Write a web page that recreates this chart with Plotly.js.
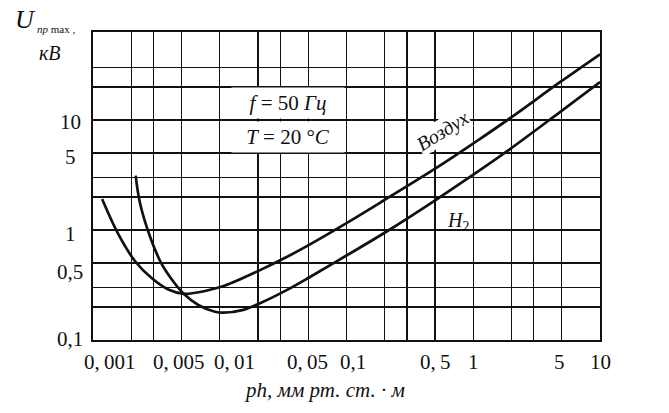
<!DOCTYPE html>
<html>
<head>
<meta charset="utf-8">
<script src="https://cdn.plot.ly/plotly-3.0.1.min.js"></script>
<style>
  html, body { margin: 0; padding: 0; background: #fff; }
  #plot { width: 669px; height: 413px; }
</style>
</head>
<body>
<div id="plot"></div>
<script>
/* Paschen curves, 50 Hz, 20 °C */

var airPh = [0.00118, 0.00158, 0.00214, 0.0029, 0.00393, 0.00522, 0.00698, 0.00917, 0.011,
             0.0208, 0.0337, 0.0515, 0.1, 0.195, 0.515, 1.0, 1.95, 4.83, 10];
var airU  = [1.91, 0.92, 0.523, 0.366, 0.288, 0.263, 0.273, 0.294, 0.313,
             0.432, 0.568, 0.74, 1.155, 1.844, 3.686, 6.115, 10.38, 22.06, 39.6];

var h2Ph = [0.00217, 0.00235, 0.00282, 0.00348, 0.0043, 0.00522, 0.00677, 0.00917, 0.01066,
            0.01534, 0.0208, 0.0337, 0.0515, 0.1, 0.2075, 0.515, 1.0, 1.95, 4.83, 10];
var h2U  = [3.12, 1.75, 0.869, 0.491, 0.34, 0.262, 0.208, 0.1805, 0.177,
            0.188, 0.216, 0.284, 0.374, 0.586, 0.969, 1.90, 3.18, 5.44, 11.8, 22.1];

// grid lines of the log paper
var xGrid = [0.002, 0.003, 0.005, 0.01, 0.02, 0.03, 0.05, 0.1, 0.2, 0.3, 0.5, 1, 2, 3, 5, 10];
var yGrid = [0.1, 0.2, 0.3, 0.5, 1, 2, 3, 5, 10, 20, 30];

// labelled ticks
var xTickVals = [0.001, 0.005, 0.01, 0.05, 0.1, 0.5, 1, 5, 10];
var xTickText = ['0,\u2009001', '0,\u2009005', '0,\u200901', '0,\u200905', '0,1', '0,\u20095', '1', '5', '10'];
var yTickVals = [0.1, 0.5, 1, 5, 10];
var yTickText = ['0,1', '0,5', '1', '5', '10'];

// hand-lettered labels sit a little off the grid lines (pixels)
var xTickShift = [16, -3, 15, -1, 6, 0, 0, -2, 0];
var yTickShift = [1, -9, -4, -4, -2];

var ink = '#111';
var serif = 'Liberation Serif, Times New Roman, serif';

// plot area in pixels: left 93, right 600, top 32, bottom 340
function px(x) { return (x - 93) / 507; }
function py(y) { return (340 - y) / 308; }

function note(text, x, y, size, extra) {
  return Object.assign({
    text: text, xref: 'paper', yref: 'paper', x: px(x), y: py(y),
    xanchor: 'center', yanchor: 'middle', showarrow: false,
    font: { family: serif, size: size, color: ink }
  }, extra || {});
}

var lineStyle = { color: ink, width: 2.7, shape: 'spline', smoothing: 1 };

var trace1 = {
  x: airPh,
  y: airU,
  name: 'Воздух',
  type: 'scatter',
  mode: 'lines',
  line: lineStyle,
  hoverinfo: 'skip'
};

var trace2 = {
  x: h2Ph,
  y: h2U,
  name: 'H2',
  type: 'scatter',
  mode: 'lines',
  line: lineStyle,
  hoverinfo: 'skip'
};

var axisCommon = {
  type: 'log',
  showgrid: true,
  gridcolor: ink,
  gridwidth: 1.3,
  showline: true,
  mirror: true,
  linecolor: ink,
  linewidth: 1.6,
  ticks: '',
  zeroline: false,
  tickmode: 'array',
  showticklabels: false
};

var annotations = [
  note('<i>U</i>', 25, 19, 26),
  note('<i>пр</i> max ,', 35, 29, 11, { xanchor: 'left' }),
  note('<i>кВ</i>', 50, 53, 20),
  // white cells behind the f / T note hide the vertical grid lines
  note('<i>f</i> = 50 <i>Гц</i>', 288, 103.5, 21,
       { bgcolor: '#fff', width: 110, height: 28, borderpad: 1 }),
  note('<i>T</i> = 20 °<i>C</i>', 288, 136.5, 21,
       { bgcolor: '#fff', width: 110, height: 28, borderpad: 1 }),
  note('<i>Воздух</i>', 442, 131, 20, { textangle: -32, bgcolor: '#fff', borderpad: 0 }),
  note('<i>H</i><sub>2</sub>', 458, 221, 20),
  note('<i>ph, мм рт. ст. · м</i>', 324, 390, 21)
];

xTickVals.forEach(function (v, i) {
  annotations.push({
    text: xTickText[i], xref: 'x', yref: 'paper', x: Math.log10(v), y: py(362),
    xanchor: 'center', yanchor: 'middle', xshift: xTickShift[i], showarrow: false,
    font: { family: serif, size: 21, color: ink }
  });
});

yTickVals.forEach(function (v, i) {
  annotations.push({
    text: yTickText[i], xref: 'paper', yref: 'y', x: px(70), y: Math.log10(v),
    xanchor: 'center', yanchor: 'middle', yshift: yTickShift[i], showarrow: false,
    font: { family: serif, size: 21, color: ink }
  });
});

var layout = {
  width: 669,
  height: 413,
  margin: { l: 93, r: 69, t: 32, b: 73 },
  paper_bgcolor: '#fff',
  plot_bgcolor: '#fff',
  showlegend: false,
  font: { family: serif, color: ink },
  xaxis: Object.assign({}, axisCommon, { range: [-3, 1], tickvals: xGrid }),
  yaxis: Object.assign({}, axisCommon, { range: [-1, 1.8], tickvals: yGrid }),
  annotations: annotations
};

var data = [trace1, trace2];

Plotly.newPlot('plot', data, layout, { staticPlot: true });
</script>
</body>
</html>
